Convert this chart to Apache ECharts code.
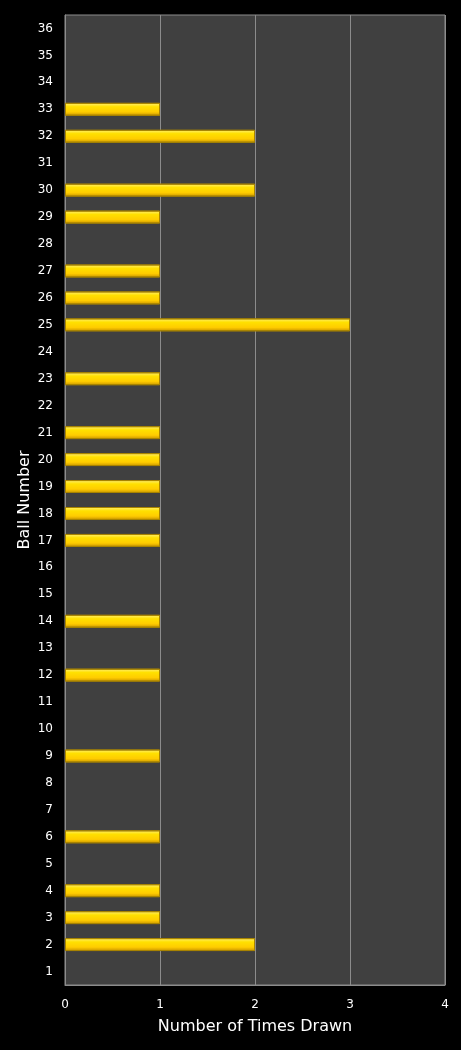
<!DOCTYPE html>
<html>
<head>
<meta charset="utf-8">
<style>
  html, body { margin: 0; padding: 0; background: #000; }
  #chart { width: 461px; height: 1050px; }
</style>
<script src="https://cdn.jsdelivr.net/npm/echarts@6/dist/echarts.min.js"></script>
</head>
<body>
<div id="chart"></div>
<script>
var balls = [];
for (var i = 1; i <= 36; i++) balls.push(String(i));

// times drawn, ball 1 .. 36
var timesDrawn = [0, 2, 1, 1, 0, 1, 0, 0, 1, 0, 0, 1, 0, 1, 0, 0, 1, 1,
  1, 1, 1, 0, 1, 0, 3, 1, 1, 0, 1, 2, 0, 2, 1, 0, 0, 0];

var xTicks = [0, 1, 2, 3, 4];

var dom = document.getElementById("chart");
var chart = echarts.init(dom, null, { renderer: "canvas" });

var option = {
  backgroundColor: "#000000",
  textStyle: { fontFamily: "DejaVu Sans" },
  grid: {
    left: 65,
    right: 16,
    top: 15,
    bottom: 65,
    show: true,
    backgroundColor: "#404040",
    borderColor: "#8c8c8c",
    borderWidth: 1,
  },
  xAxis: {
    type: "value",
    min: xTicks[0],
    max: xTicks[xTicks.length - 1],
    interval: 1,
    name: "Number of Times Drawn",
    nameLocation: "middle",
    nameGap: 34,
    nameMoveOverlap: false,
    nameTextStyle: { color: "#ffffff", fontSize: 16 },
    axisLine: { show: true, lineStyle: { color: "#8c8c8c" } },
    axisTick: { show: false },
    axisLabel: { color: "#ffffff", fontSize: 12, margin: 14 },
    splitLine: { show: true, lineStyle: { color: "#8c8c8c", width: 1 } },
  },
  yAxis: {
    type: "category",
    data: balls,
    name: "Ball Number",
    nameLocation: "middle",
    nameGap: 32,
    nameMoveOverlap: false,
    nameTextStyle: { color: "#ffffff", fontSize: 16 },
    axisLine: { show: true, lineStyle: { color: "#8c8c8c" } },
    axisTick: { show: false },
    axisLabel: { color: "#ffffff", fontSize: 12, interval: 0, margin: 12 },
    splitLine: { show: false },
  },
  series: [
    {
      name: "Times Drawn",
      type: "bar",
      // zero counts get no bar at all
      data: timesDrawn.map(function (v) { return v === 0 ? "-" : v; }),
      barWidth: "48%",
      itemStyle: {
        borderColor: "#a88400",
        borderWidth: 1,
        color: new echarts.graphic.LinearGradient(0, 0, 0, 1, [
          { offset: 0, color: "#fff07a" },
          { offset: 0.3, color: "#ffe000" },
          { offset: 0.7, color: "#ffcc00" },
          { offset: 1, color: "#c89400" },
        ]),
      },
    },
  ],
};

chart.setOption(option);
window.addEventListener("resize", chart.resize);
</script>
</body>
</html>
